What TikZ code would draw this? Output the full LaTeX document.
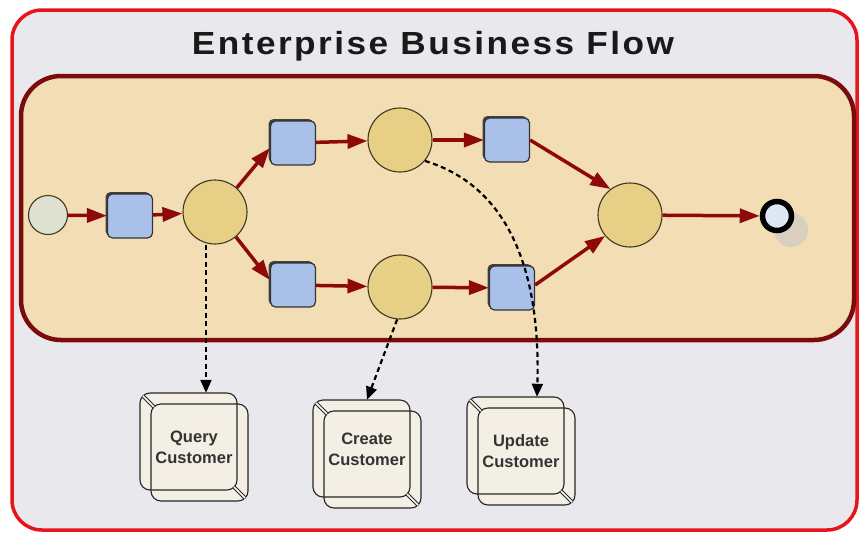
\documentclass[tikz,border=0pt]{standalone}
\usepackage{fontspec}
\usepackage{graphicx}
\setmainfont{Liberation Sans}
\usetikzlibrary{arrows.meta,shadows}
\definecolor{outerfill}{HTML}{E9E8EC}
\definecolor{outerline}{HTML}{E8141B}
\definecolor{innerfill}{HTML}{F3DDB5}
\definecolor{innerline}{HTML}{7B0C0C}
\definecolor{gatefill}{HTML}{E8CF86}
\definecolor{gateline}{HTML}{3C3820}
\definecolor{taskfill}{HTML}{A9C1E9}
\definecolor{startfill}{HTML}{DEE1CF}
\definecolor{endfill}{HTML}{DCE6F5}
\definecolor{flowred}{HTML}{8E0A0A}
\definecolor{custfill}{HTML}{F4EFE4}
% #1 name, #2 x, #3 y (top-left of back key), #4 text, #5 text centre y
\newcommand\custbox[5]{%
  \fill[custfill, rounded corners=10pt] (#2,#3) rectangle ++(97,97);
  \fill[custfill, rounded corners=10pt] (#2+11,#3+11) rectangle ++(97,97);
  \draw[custline, rounded corners=10pt] (#2,#3) rectangle ++(97,97);
  \draw[custline, rounded corners=10pt] (#2+11,#3+11) rectangle ++(97,97);
  \draw[custline, double, double distance=1.6pt] (#2+2.9,#3+2.9) -- (#2+13.9,#3+13.9);
  \draw[custline, double, double distance=1.6pt] (#2+94.1,#3+94.1) -- (#2+105.1,#3+105.1);
  \node[custframe] (#1) at (#2+54,#3+54) {};
  \node[custtext] (#1text) at (#2+54,#5) {#4};
}
\begin{document}
\begin{tikzpicture}[x=1pt,y=-1pt,
  gate/.style={circle, fill=gatefill, draw=gateline, line width=1.1pt, minimum size=64pt, inner sep=0pt},
  startev/.style={circle, fill=startfill, draw=gateline, line width=1.1pt, minimum size=39pt, inner sep=0pt},
  endev/.style={circle, fill=endfill, draw=black, line width=5.5pt, minimum size=29pt, inner sep=0pt},
  taskbox/.style={rectangle, rounded corners=5pt, fill=taskfill, draw=black!80, line width=1.2pt,
    minimum width=45pt, minimum height=44pt, inner sep=0pt,
    drop shadow={shadow xshift=-2pt, shadow yshift=2pt, fill=black!75, opacity=1}},
  flow/.style={draw=flowred, line width=3.5pt, -{Triangle[length=20pt,width=14pt]}},
  assoc/.style={draw=black, line width=2.2pt, dash pattern=on 5pt off 3.5pt, -{Triangle[length=13pt,width=11pt]}},
  custline/.style={draw=black!85, line width=1.1pt},
  custframe/.style={minimum width=108pt, minimum height=108pt, inner sep=0pt},
  custtext/.style={inner sep=0pt, align=center,
    font=\fontsize{16.5pt}{21pt}\selectfont\bfseries, text=black!80},
  titletext/.style={font=\fontsize{32pt}{38pt}\selectfont\bfseries\addfontfeatures{LetterSpace=7}, text=black!90}
]
\useasboundingbox (0,0) rectangle (862,536);
% frames
\draw[fill=outerfill, draw=outerline, line width=3.5pt, rounded corners=30pt] (12,10) rectangle (857,530);
\node[titletext, anchor=base] (title) at (433,54) {\scalebox{1.1}[1]{Enterprise Business Flow}};
\draw[fill=innerfill, draw=innerline, line width=4.5pt, rounded corners=40pt] (21,76) rectangle (854,340);
% nodes
\node[startev] (start) at (48,215) {};
\node[taskbox] (t1) at (130,216) {};
\node[gate] (g1) at (215,212) {};
\node[taskbox] (ta) at (293,143) {};
\node[taskbox] (tb) at (293,285) {};
\node[gate] (gt) at (400,140) {};
\node[gate] (gb) at (400,287) {};
\node[taskbox] (tc) at (507,140) {};
\node[taskbox] (td) at (512,288) {};
\node[gate] (gm) at (630,215) {};
\fill[gray!45, opacity=0.6] (791,230) circle (17pt);
\node[endev] (end) at (777,216) {};
% customer boxes
\custbox{q}{140}{393}{Query\\Customer}{447}
\custbox{c}{313}{400}{Create\\Customer}{449}
\custbox{u}{467}{397}{Update\\Customer}{451}
% flows
\draw[flow] (start) -- (t1);
\draw[flow] (t1) -- (g1);
\draw[flow] (g1.48) -- ([yshift=-5pt]ta.west);
\draw[flow] (g1.-50) -- ([yshift=5pt]tb.west);
\draw[flow] (ta) -- (gt);
\draw[flow] (gt) -- (tc);
\draw[flow] (tb) -- (gb);
\draw[flow] (gb) -- (td);
\draw[flow] (tc.east) -- (gm.127);
\draw[flow] ([yshift=3pt]td.east) -- (gm.-140);
\draw[flow] (gm) -- (end);
% associations
\draw[assoc] ([xshift=-9pt]g1.south) -- ([xshift=-9pt]g1.south |- q.north);
\draw[assoc] (gb.-95) -- (c.north);
\draw[assoc] (gt.-40) .. controls (505,185) and (541,265) .. ([xshift=16pt]u.north);
\end{tikzpicture}
\end{document}
